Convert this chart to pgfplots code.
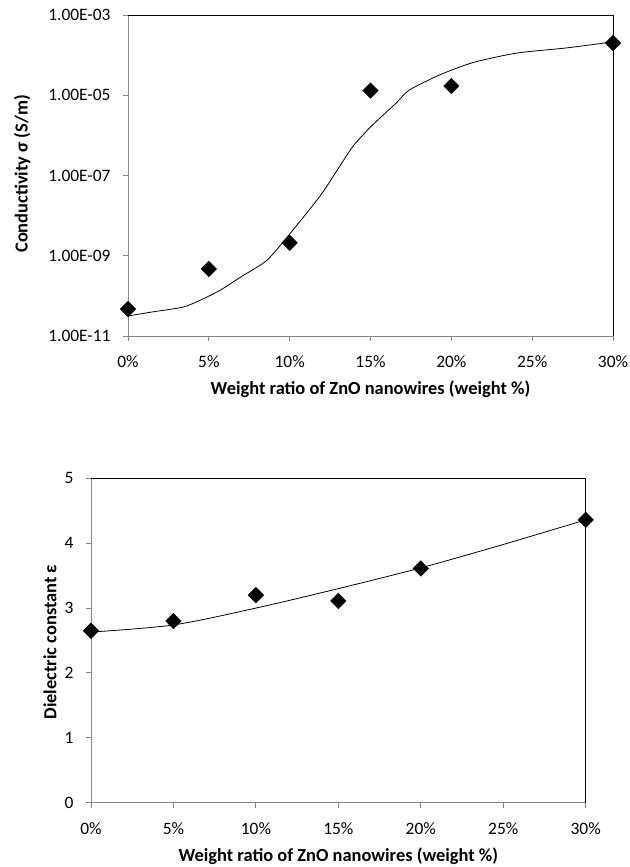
\documentclass[border=0pt]{standalone}
\usepackage{pgfplots}
\pgfplotsset{compat=1.18}
\usepackage{fontspec}
\setmainfont{Carlito}
\definecolor{axgray}{RGB}{134,134,134}
\pgfplotsset{
  excel/.style={
    scale only axis,
    axis lines*=left,
    axis line style={axgray, line width=0.9bp},
    tick align=outside,
    major tick length=5bp,
    tick style={axgray, line width=0.9bp},
    ticklabel style={font=\fontsize{17.5}{20}\selectfont, text=black},
    xticklabel style={yshift=-11bp},
    yticklabel style={xshift=-9bp},
    label style={font=\bfseries\fontsize{18.5}{22}\selectfont},
    xmin=0, xmax=30,
    xtick={0,5,10,15,20,25,30},
    xticklabels={0\%,5\%,10\%,15\%,20\%,25\%,30\%},
    xlabel={Weight ratio of ZnO nanowires (weight \%)},
    clip=false,
  },
}
\begin{document}
\begin{tikzpicture}
\useasboundingbox (0bp,0bp) rectangle (630bp,-867bp);
% ---------------- top: conductivity ----------------
\begin{axis}[excel,
  at={(128bp,-336bp)}, anchor=south west,
  width=485bp, height=321bp,
  ymode=log, ymin=1e-11, ymax=1e-3,
  ytick={1e-11,1e-9,1e-7,1e-5,1e-3},
  yticklabels={1.00E-11,1.00E-09,1.00E-07,1.00E-05,1.00E-03},
  ylabel={Conductivity σ (S/m)},
  xlabel style={at={(axis description cs:0.5,-0.165)}, anchor=center},
  ylabel style={at={(axis description cs:-0.218,0.505)}, anchor=center, rotate=0},
]
\draw[black, line width=0.9bp] (rel axis cs:0,1) -- (rel axis cs:1,1) -- (rel axis cs:1,0);
\addplot[black, line width=0.8bp, no marks, smooth, tension=0.4] coordinates {
 (0,3.16e-11) (1.5,3.98e-11) (3.4,5.25e-11) (4.5,7.9e-11) (5.7,1.38e-10)
 (7.0,3.0e-10) (8.6,7.76e-10) (10.1,3.9e-9) (11.9,3.16e-8) (13.0,1.48e-7)
 (13.9,5.25e-7) (15.0,1.62e-6) (16.6,6.46e-6) (17.4,1.35e-5) (19.3,3.24e-5)
 (21.3,6.46e-5) (24.0,1.12e-4) (27.1,1.51e-4) (30,2.14e-4)};
\addplot[only marks, mark=square*, mark size=5.5bp, mark options={rotate=45, fill=black, draw=black}] coordinates {
 (0,4.7e-11) (5,4.7e-10) (10,2.1e-9) (15,1.3e-5) (20,1.7e-5) (30,2.0e-4)};
\end{axis}
% ---------------- bottom: dielectric constant ----------------
\begin{axis}[excel,
  at={(91bp,-802.7bp)}, anchor=south west,
  width=494.7bp, height=324.4bp,
  ymin=0, ymax=5,
  ytick={0,1,2,3,4,5},
  yticklabels={0,1,2,3,4,5},
  ylabel={Dielectric constant ε},
  xlabel style={at={(axis description cs:0.5,-0.164)}, anchor=center},
  ylabel style={at={(axis description cs:-0.083,0.495)}, anchor=center, rotate=0},
]
\draw[black, line width=0.9bp] (rel axis cs:0,1) -- (rel axis cs:1,1) -- (rel axis cs:1,0);
\addplot[black, line width=0.8bp, no marks, smooth] coordinates {
 (0,2.63) (5,2.74) (10,3.0) (15,3.30) (20,3.62) (25,3.98) (30,4.36)};
\addplot[only marks, mark=square*, mark size=5.5bp, mark options={rotate=45, fill=black, draw=black}] coordinates {
 (0,2.65) (5,2.80) (10,3.20) (15,3.11) (20,3.61) (30,4.36)};
\end{axis}
\end{tikzpicture}
\end{document}
